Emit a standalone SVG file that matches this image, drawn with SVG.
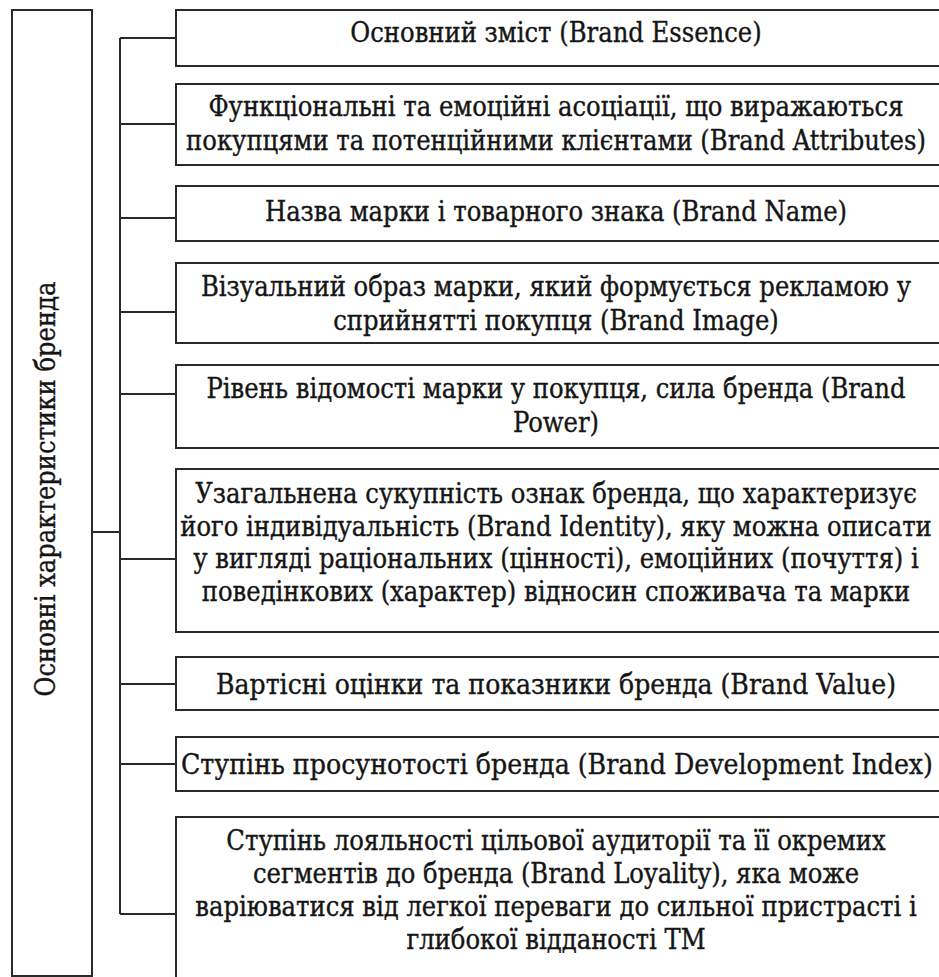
<svg xmlns="http://www.w3.org/2000/svg" width="939" height="977" viewBox="0 0 939 977">
<style>
.box{fill:#fff;stroke:#2a2a2a;stroke-width:2}
.ln{stroke:#2a2a2a;stroke-width:2;fill:none}
text{font-family:'DejaVu Serif Condensed','DejaVu Serif',serif;font-stretch:condensed;font-size:27px;fill:#151515;stroke:#151515;stroke-width:0.35;text-anchor:middle}
</style>
<rect width="939" height="977" fill="#fff"/>
<g id="main">
<rect class="box" x="12" y="10" width="80" height="966"/>
<text transform="translate(55,489) rotate(-90)">Основні характеристики бренда</text>
</g>
<g id="connectors">
<path class="ln" d="M120,38 V914"/>
<path class="ln" d="M92,532 H120"/>
<path class="ln" d="M120,38 H176 M120,124 H176 M120,218 H176 M120,312 H176 M120,394 H176 M120,559 H176 M120,684 H176 M120,764 H176 M120,914 H176"/>
</g>
<g id="n1"><rect class="box" x="176" y="10" width="780" height="56"/><text x="556" y="42">Основний зміст (Brand Essence)</text></g>
<g id="n2"><rect class="box" x="176" y="84" width="780" height="81"/><text x="556" y="116">Функціональні та емоційні асоціації, що виражаються</text><text x="556" y="150">покупцями та потенційними клієнтами (Brand Attributes)</text></g>
<g id="n3"><rect class="box" x="176" y="186" width="780" height="55"/><text x="556" y="221">Назва марки і товарного знака (Brand Name)</text></g>
<g id="n4"><rect class="box" x="176" y="263" width="780" height="80"/><text x="556" y="296">Візуальний образ марки, який формується рекламою у</text><text x="556" y="330">сприйнятті покупця (Brand Image)</text></g>
<g id="n5"><rect class="box" x="176" y="365" width="780" height="83"/><text x="556" y="398">Рівень відомості марки у покупця, сила бренда (Brand</text><text x="556" y="432">Power)</text></g>
<g id="n6"><rect class="box" x="176" y="469" width="780" height="163"/><text x="556" y="503">Узагальнена сукупність ознак бренда, що характеризує</text><text x="556" y="536">його індивідуальність (Brand Identity), яку можна описати</text><text x="556" y="568">у вигляді раціональних (цінності), емоційних (почуття) і</text><text x="556" y="601">поведінкових (характер) відносин споживача та марки</text></g>
<g id="n7"><rect class="box" x="176" y="657" width="780" height="53"/><text x="556" y="694" textLength="680" lengthAdjust="spacingAndGlyphs">Вартісні оцінки та показники бренда (Brand Value)</text></g>
<g id="n8"><rect class="box" x="176" y="737" width="780" height="54"/><text x="557" y="774" textLength="752" lengthAdjust="spacingAndGlyphs">Ступінь просунотості бренда (Brand Development Index)</text></g>
<g id="n9"><rect class="box" x="176" y="817" width="780" height="180"/><text x="556" y="850">Ступінь лояльності цільової аудиторії та її окремих</text><text x="556" y="883">сегментів до бренда (Brand Loyality), яка може</text><text x="556" y="916">варіюватися від легкої переваги до сильної пристрасті і</text><text x="556" y="949">глибокої відданості ТМ</text></g>
</svg>
